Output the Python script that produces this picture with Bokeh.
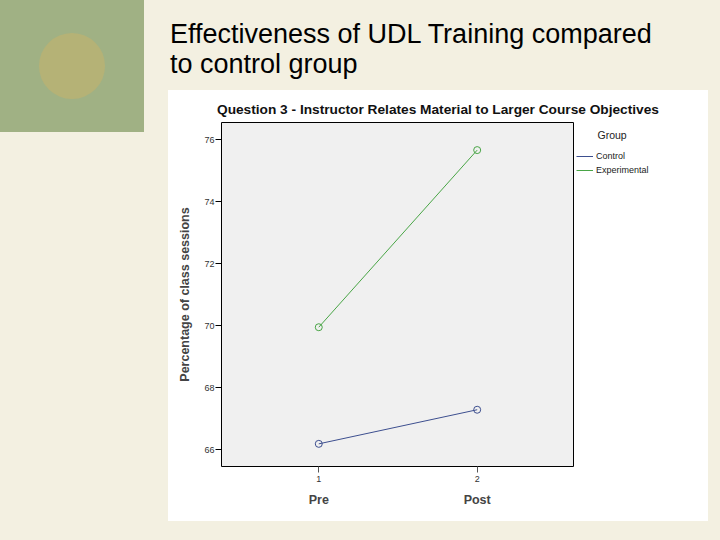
from bokeh.plotting import figure
from bokeh.layouts import row, column
from bokeh.models import Div, FixedTicker, LinearAxis, Legend, Label
from bokeh.embed import file_html
from bokeh.resources import INLINE

# values
phase = [1, 2]
phase_labels = ["Pre", "Post"]
control = [66.19, 67.29]
experimental = [69.95, 75.66]
y_ticks = [66, 68, 70, 72, 74, 76]
groups = ["Control", "Experimental"]

BG = "#f3f0e1"
FONT = "Liberation Sans"
CSS_FONT = "font-family:'Liberation Sans',Arial,sans-serif;"


def pad(w, h, html="", bg=BG):
    return Div(width=w, height=h, margin=0, text=html, styles={"background-color": bg})


square = pad(168, 540, '<div style="position:relative;width:144px;height:132px;background:#a0b184">'
                       '<div style="position:absolute;left:39px;top:33px;width:66px;height:66px;'
                       'border-radius:50%;background:#b5b276"></div></div>')

heading = pad(552, 90, '<div style="padding:19px 0 0 2px;width:500px;' + CSS_FONT +
                       'font-size:27px;line-height:30px;color:#000">'
                       'Effectiveness of UDL Training compared to control group</div>')

chart_title = pad(540, 31, '<div style="padding:12px 0 0 49px;white-space:nowrap;' + CSS_FONT +
                           'font-size:13.7px;line-height:15px;font-weight:bold;color:#111">'
                           'Question 3 - Instructor Relates Material to Larger Course Objectives</div>',
                  bg="white")

p = figure(width=406, height=400, x_range=(0.386, 2.608), y_range=(65.46, 76.55),
           output_backend="svg", toolbar_location=None, margin=0,
           min_border_left=53, min_border_right=1, min_border_top=1, min_border_bottom=55,
           background_fill_color="#f0f0f0", border_fill_color="white",
           outline_line_color="black", outline_line_width=1)
p.grid.visible = False

p.yaxis.ticker = FixedTicker(ticks=y_ticks)
p.yaxis.minor_tick_line_color = None
p.yaxis.axis_line_color = None
p.yaxis.major_tick_in = 0
p.yaxis.major_tick_out = 6
p.yaxis.major_tick_line_color = "black"
p.yaxis.major_label_text_font = FONT
p.yaxis.major_label_text_font_size = "9px"
p.yaxis.major_label_text_color = "#333333"
p.yaxis.major_label_standoff = 1
p.yaxis.axis_label = "Percentage of class sessions"
p.yaxis.axis_label_text_font = FONT
p.yaxis.axis_label_text_font_size = "12.5px"
p.yaxis.axis_label_text_font_style = "bold"
p.yaxis.axis_label_standoff = 9

p.xaxis.ticker = FixedTicker(ticks=phase)
p.xaxis.minor_tick_line_color = None
p.xaxis.axis_line_color = None
p.xaxis.major_tick_in = 0
p.xaxis.major_tick_out = 6
p.xaxis.major_tick_line_color = "#555555"
p.xaxis.major_label_text_font = FONT
p.xaxis.major_label_text_font_size = "9px"
p.xaxis.major_label_text_color = "#333333"
p.xaxis.major_label_standoff = 3

phase_axis = LinearAxis(ticker=FixedTicker(ticks=phase),
                        major_label_overrides=dict(zip(phase, phase_labels)),
                        axis_line_color=None, major_tick_line_color=None,
                        minor_tick_line_color=None, major_tick_in=0, major_tick_out=0,
                        major_label_standoff=8, major_label_text_font=FONT,
                        major_label_text_font_size="12.5px", major_label_text_font_style="bold")
p.add_layout(phase_axis, "below")

colors = ["#3d4f8f", "#49a546"]
for vals, c in zip([control, experimental], colors):
    p.line(phase, vals, line_color=c, line_width=1)
    p.scatter(phase, vals, marker="circle", size=7, fill_color=None, line_color=c, line_width=1)

# legend strip to the right of the frame; its lines sit outside its own ranges
# (row() aligns this frame with the chart frame: top 1px, bottom 55px)
lf = figure(width=134, height=400, x_range=(0, 1), y_range=(0, 1),
            output_backend="svg", toolbar_location=None, margin=0,
            x_axis_location=None, y_axis_location=None,
            min_border_left=0, min_border_right=0, min_border_top=1, min_border_bottom=55,
            background_fill_color="white", border_fill_color="white", outline_line_color=None)
lf.grid.visible = False

items = []
for name, vals, c in zip(groups, [control, experimental], colors):
    items.append((name, [lf.line(phase, vals, line_color=c, line_width=1)]))

legend = Legend(items=items, location=(2, 290), margin=0, padding=0,
                border_line_color=None, background_fill_alpha=0,
                glyph_width=17, glyph_height=12, label_height=12, spacing=2,
                label_standoff=3, label_text_font=FONT, label_text_font_size="9px",
                label_text_color="#222222")
lf.add_layout(legend)
lf.add_layout(Label(x=23, y=13, x_units="canvas", y_units="canvas", text="Group",
                    text_font=FONT, text_font_size="10.5px", text_color="#222222",
                    text_baseline="middle"))

chart = column(chart_title, row(p, lf))
right = column(heading, row(chart, pad(12, 431)), pad(552, 19))
page = row(square, right)

open("out.html", "w").write(file_html(page, INLINE))
